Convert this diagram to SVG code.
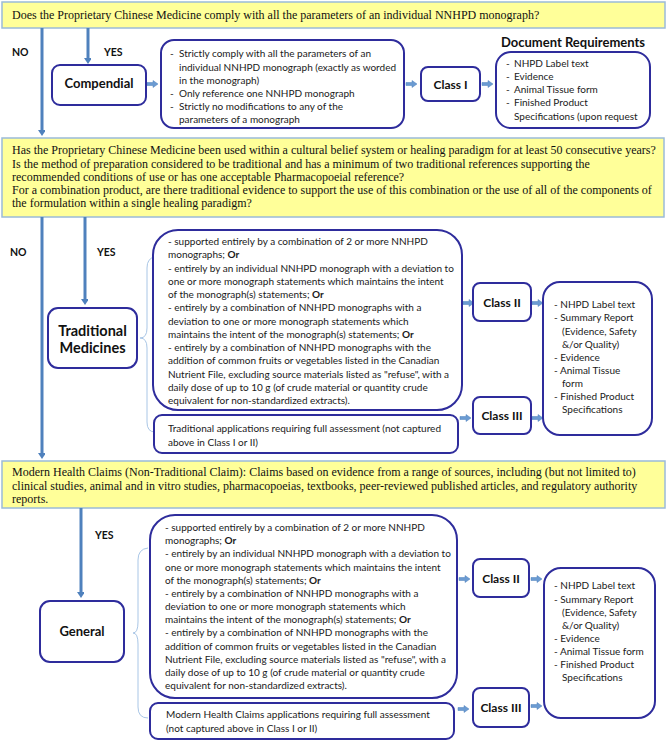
<svg xmlns="http://www.w3.org/2000/svg" width="669" height="742" viewBox="0 0 669 742">
<style>
.y{fill:#ffff99;stroke:#9bbbd9;stroke-width:1.5}
.b{fill:#fff;stroke:#2e2c9c;stroke-width:2}
.s{font-family:"Liberation Serif","Times New Roman",serif;font-size:12px;fill:#111}
.t{font-family:Lato,"Liberation Sans",sans-serif;font-size:10px;fill:#1a1a1a}
.h{font-family:Lato,"Liberation Sans",sans-serif;font-weight:bold;font-size:13px;fill:#111;text-anchor:middle}
.c{font-size:12px}
.tm{font-size:14.5px}
.l{font-family:Lato,"Liberation Sans",sans-serif;font-weight:bold;font-size:10.5px;fill:#111}
.v{stroke:#4f81bd;stroke-width:3;fill:none;marker-end:url(#ah)}
.br{stroke:#a9c6e6;stroke-width:1;fill:none}
.ha{fill:#6b9bd2;stroke:#4f81bd;stroke-width:0.5}
</style>
<defs>
<marker id="ah" markerWidth="8" markerHeight="8" refX="4" refY="3" orient="auto" markerUnits="userSpaceOnUse" viewBox="0 0 8 8">
<path d="M0,0 L8,0 L4,6 Z" fill="#4f81bd" transform="rotate(-90 4 3)"/>
</marker>
<path id="ha" d="M0,-1.5 H6 V-3.5 L11,0 L6,3.5 V1.5 H0 Z"/>
</defs>

<g id="q1">
<rect class="y" x="2" y="2" width="663" height="26"/>
<text class="s" x="12" y="19">Does the Proprietary Chinese Medicine comply with all the parameters of an individual NNHPD monograph?</text>
</g>

<g id="q2">
<rect class="y" x="2" y="138" width="662" height="79"/>
<text class="s" x="12" y="154">Has the Proprietary Chinese Medicine been used within a cultural belief system or healing paradigm for at least 50 consecutive years?</text>
<text class="s" x="12" y="168">Is the method of preparation considered to be traditional and has a minimum of two traditional references supporting the</text>
<text class="s" x="12" y="181">recommended conditions of use or has one acceptable Pharmacopoeial reference?</text>
<text class="s" x="12" y="194">For a combination product, are there traditional evidence to support the use of this combination or the use of all of the components of</text>
<text class="s" x="12" y="207">the formulation within a single healing paradigm?</text>
</g>

<g id="q3">
<rect class="y" x="2" y="461" width="663" height="47"/>
<text class="s" x="12" y="476">Modern Health Claims (Non-Traditional Claim): Claims based on evidence from a range of sources, including (but not limited to)</text>
<text class="s" x="12" y="490">clinical studies, animal and in vitro studies, pharmacopoeias, textbooks, peer-reviewed published articles, and regulatory authority</text>
<text class="s" x="12" y="503">reports.</text>
</g>

<g id="connectors">
<line class="v" x1="42" y1="28" x2="42" y2="133"/>
<line class="v" x1="88" y1="28" x2="88" y2="61"/>
<line class="v" x1="42" y1="217" x2="42" y2="456"/>
<line class="v" x1="85" y1="217" x2="85" y2="302"/>
<line class="v" x1="81" y1="508" x2="81" y2="595"/>
<use href="#ha" class="ha" x="147" y="84"/>
<use href="#ha" class="ha" x="406" y="84"/>
<use href="#ha" class="ha" x="482" y="84"/>
<use href="#ha" class="ha" x="463" y="303"/>
<use href="#ha" class="ha" x="532" y="303"/>
<use href="#ha" class="ha" x="460" y="418"/>
<use href="#ha" class="ha" x="532" y="418"/>
<use href="#ha" class="ha" x="459" y="579"/>
<use href="#ha" class="ha" x="531" y="579"/>
<use href="#ha" class="ha" x="458" y="709"/>
<use href="#ha" class="ha" x="531" y="706"/>
<path class="br" d="M155,257 Q147,258 147,268 L147,328 Q147,338 140,338 Q147,338 147,348 L147,422 Q147,432 155,432"/>
<path class="br" d="M148,548 Q138,549 138,560 L138,622 Q138,633 133,633 Q138,633 138,644 L138,707 Q138,718 148,718"/>
<text class="l" x="12" y="56">NO</text>
<text class="l" x="104" y="56">YES</text>
<text class="l" x="10" y="256">NO</text>
<text class="l" x="97" y="256">YES</text>
<text class="l" x="95" y="539">YES</text>
</g>

<g id="compendial">
<rect class="b" x="52" y="65" width="94" height="40" rx="8"/>
<text class="h" x="99" y="88">Compendial</text>
</g>

<g id="criteria1">
<rect class="b" x="161" y="40" width="243" height="88" rx="13"/>
<text class="t" x="170" y="57">-</text><text class="t" x="179" y="57">Strictly comply with all the parameters of an</text>
<text class="t" x="179" y="70.5">individual NNHPD monograph (exactly as worded</text>
<text class="t" x="179" y="83.5">in the monograph)</text>
<text class="t" x="170" y="97">-</text><text class="t" x="179" y="97">Only reference one NNHPD monograph</text>
<text class="t" x="170" y="110">-</text><text class="t" x="179" y="110">Strictly no modifications to any of the</text>
<text class="t" x="179" y="123">parameters of a monograph</text>
</g>

<g id="class1">
<rect class="b" x="421" y="67" width="59" height="34" rx="7"/>
<text class="h c" x="450.5" y="88.5">Class I</text>
</g>

<g id="docreq1">
<text class="h" x="573" y="47">Document Requirements</text>
<rect class="b" x="496" y="52" width="154" height="76" rx="15"/>
<text class="t" x="506" y="67">-</text><text class="t" x="514" y="67">NHPD Label text</text>
<text class="t" x="506" y="80">-</text><text class="t" x="514" y="80">Evidence</text>
<text class="t" x="506" y="93">-</text><text class="t" x="514" y="93">Animal Tissue form</text>
<text class="t" x="506" y="106">-</text><text class="t" x="514" y="106">Finished Product</text>
<text class="t" x="514" y="120">Specifications (upon request</text>
</g>

<g id="traditional">
<rect class="b" x="48" y="308" width="89" height="60" rx="10"/>
<text class="h tm" x="92.5" y="336">Traditional</text>
<text class="h tm" x="92.5" y="353">Medicines</text>
</g>

<g id="criteria2">
<rect class="b" x="153" y="230" width="309" height="180" rx="25"/>
<text class="t" x="168" y="245">- supported entirely by a combination of 2 or more NNHPD</text>
<text class="t" x="168" y="258.2">monographs; <tspan font-weight="bold">Or</tspan></text>
<text class="t" x="168" y="271.5">- entirely by an individual NNHPD monograph with a deviation to</text>
<text class="t" x="168" y="284.7">one or more monograph statements which maintains the intent</text>
<text class="t" x="168" y="298">of the monograph(s) statements; <tspan font-weight="bold">Or</tspan></text>
<text class="t" x="168" y="311.2">- entirely by a combination of NNHPD monographs with a</text>
<text class="t" x="168" y="324.5">deviation to one or more monograph statements which</text>
<text class="t" x="168" y="337.7">maintains the intent of the monograph(s) statements; <tspan font-weight="bold">Or</tspan></text>
<text class="t" x="168" y="351">- entirely by a combination of NNHPD monographs with the</text>
<text class="t" x="168" y="364.2">addition of common fruits or vegetables listed in the Canadian</text>
<text class="t" x="168" y="377.5">Nutrient File, excluding source materials listed as "refuse", with a</text>
<text class="t" x="168" y="390.7">daily dose of up to 10 g (of crude material or quantity crude</text>
<text class="t" x="168" y="404">equivalent for non-standardized extracts).</text>
</g>

<g id="tradapps">
<rect class="b" x="154" y="415" width="304" height="38" rx="8"/>
<text class="t" x="168" y="432">Traditional applications requiring full assessment (not captured</text>
<text class="t" x="168" y="446">above in Class I or II)</text>
</g>

<g id="class2t">
<rect class="b" x="473" y="283" width="58" height="38" rx="7"/>
<text class="h c" x="502" y="306.5">Class II</text>
</g>

<g id="class3t">
<rect class="b" x="473" y="397" width="58" height="37" rx="7"/>
<text class="h c" x="502" y="420">Class III</text>
</g>

<g id="docreq2">
<rect class="b" x="543" y="282" width="109" height="153" rx="17"/>
<text class="t" x="554" y="308">- NHPD Label text</text>
<text class="t" x="554" y="321">- Summary Report</text>
<text class="t" x="562" y="335">(Evidence, Safety</text>
<text class="t" x="562" y="348">&amp;/or Quality)</text>
<text class="t" x="554" y="361">- Evidence</text>
<text class="t" x="554" y="374">- Animal Tissue</text>
<text class="t" x="562" y="387">form</text>
<text class="t" x="554" y="400">- Finished Product</text>
<text class="t" x="562" y="413">Specifications</text>
</g>

<g id="general">
<rect class="b" x="40" y="601" width="84" height="61" rx="10"/>
<text class="h" x="82" y="636">General</text>
</g>

<g id="criteria3">
<rect class="b" x="150" y="515" width="307" height="183" rx="25"/>
<text class="t" x="165" y="531">- supported entirely by a combination of 2 or more NNHPD</text>
<text class="t" x="165" y="544.2">monographs; <tspan font-weight="bold">Or</tspan></text>
<text class="t" x="165" y="557.3">- entirely by an individual NNHPD monograph with a deviation to</text>
<text class="t" x="165" y="570.5">one or more monograph statements which maintains the intent</text>
<text class="t" x="165" y="583.7">of the monograph(s) statements; <tspan font-weight="bold">Or</tspan></text>
<text class="t" x="165" y="596.8">- entirely by a combination of NNHPD monographs with a</text>
<text class="t" x="165" y="610">deviation to one or more monograph statements which</text>
<text class="t" x="165" y="623.2">maintains the intent of the monograph(s) statements; <tspan font-weight="bold">Or</tspan></text>
<text class="t" x="165" y="636.3">- entirely by a combination of NNHPD monographs with the</text>
<text class="t" x="165" y="649.5">addition of common fruits or vegetables listed in the Canadian</text>
<text class="t" x="165" y="662.7">Nutrient File, excluding source materials listed as "refuse", with a</text>
<text class="t" x="165" y="675.8">daily dose of up to 10 g (of crude material or quantity crude</text>
<text class="t" x="165" y="689">equivalent for non-standardized extracts).</text>
</g>

<g id="modernapps">
<rect class="b" x="150" y="703" width="304" height="36" rx="8"/>
<text class="t" x="166" y="718">Modern Health Claims applications requiring full assessment</text>
<text class="t" x="166" y="732">(not captured above in Class I or II)</text>
</g>

<g id="class2g">
<rect class="b" x="473" y="559" width="56" height="38" rx="7"/>
<text class="h c" x="501" y="582.5">Class II</text>
</g>

<g id="class3g">
<rect class="b" x="473" y="688" width="56" height="39" rx="7"/>
<text class="h c" x="501" y="711.5">Class III</text>
</g>

<g id="docreq3">
<rect class="b" x="544" y="568" width="111" height="150" rx="17"/>
<text class="t" x="554" y="589">- NHPD Label text</text>
<text class="t" x="554" y="603">- Summary Report</text>
<text class="t" x="562" y="616">(Evidence, Safety</text>
<text class="t" x="562" y="629">&amp;/or Quality)</text>
<text class="t" x="554" y="642">- Evidence</text>
<text class="t" x="554" y="655">- Animal Tissue form</text>
<text class="t" x="554" y="668">- Finished Product</text>
<text class="t" x="562" y="681">Specifications</text>
</g>
</svg>
